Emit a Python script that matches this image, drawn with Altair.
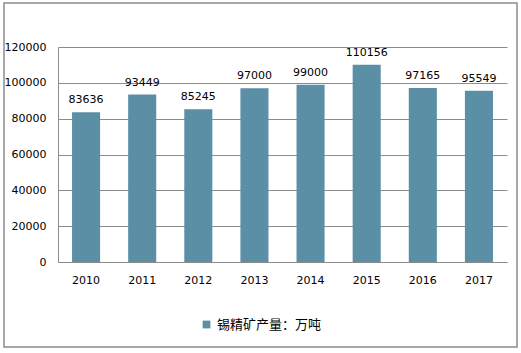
import altair as alt
import pandas as pd

years = ["2010", "2011", "2012", "2013", "2014", "2015", "2016", "2017"]
values = [83636, 93449, 85245, 97000, 99000, 110156, 97165, 95549]
series_name = "锡精矿产量：万吨"
y_ticks = [0, 20000, 40000, 60000, 80000, 100000, 120000]

df = pd.DataFrame({"year": years, "value": values, "series": [series_name] * len(years)})

x_enc = alt.X("year:N", sort=years, title=None,
              scale=alt.Scale(paddingInner=0.5, paddingOuter=0.25),
              axis=alt.Axis(labelAngle=0, ticks=False, domainColor="#8c8c8c",
                            labelPadding=12, labelFont="DejaVu Sans", labelFontSize=11,
                            labelColor="#000000", grid=False))
y_enc = alt.Y("value:Q", title=None,
              scale=alt.Scale(domain=[0, 120000], nice=False),
              axis=alt.Axis(values=y_ticks,
                            format="d", ticks=False, domainColor="#8c8c8c",
                            grid=True, gridColor="#8c8c8c", labelPadding=12, labelOverlap=False,
                            labelFont="DejaVu Sans", labelFontSize=11, labelColor="#000000"))

base = alt.Chart(df).encode(x=x_enc, y=y_enc)

bars = base.mark_bar(color="#5b8fa6").encode(
    fill=alt.Fill("series:N", scale=alt.Scale(range=["#5b8fa6"]),
                  legend=alt.Legend(title=None, orient="none", legendX=142, legendY=271,
                                    symbolType="square", symbolSize=60, labelOffset=4,
                                    labelFont="Noto Sans CJK SC", labelFontSize=13,
                                    labelColor="#000000", symbolStrokeWidth=0)),
)

labels = base.mark_text(dy=-12, font="DejaVu Sans", fontSize=11, color="#000000").encode(
    text=alt.Text("value:Q", format="d"),
)

border = alt.Chart(pd.DataFrame({"a": [0]})).mark_rect(
    fill=None, stroke="#8c8c8c", strokeWidth=1.5, clip=False
).encode(
    x=alt.value(-54), x2=alt.value(459),
    y=alt.value(-44), y2=alt.value(300),
)

chart = alt.layer(border, bars, labels).properties(
    width=449, height=215,
    padding={"left": 58, "top": 47, "right": 14, "bottom": 91},
    autosize=alt.AutoSizeParams(type="none"),
    background="#ffffff",
).configure_view(stroke=None)

chart.save("out.html", embed_options={"renderer": "svg", "actions": False})
